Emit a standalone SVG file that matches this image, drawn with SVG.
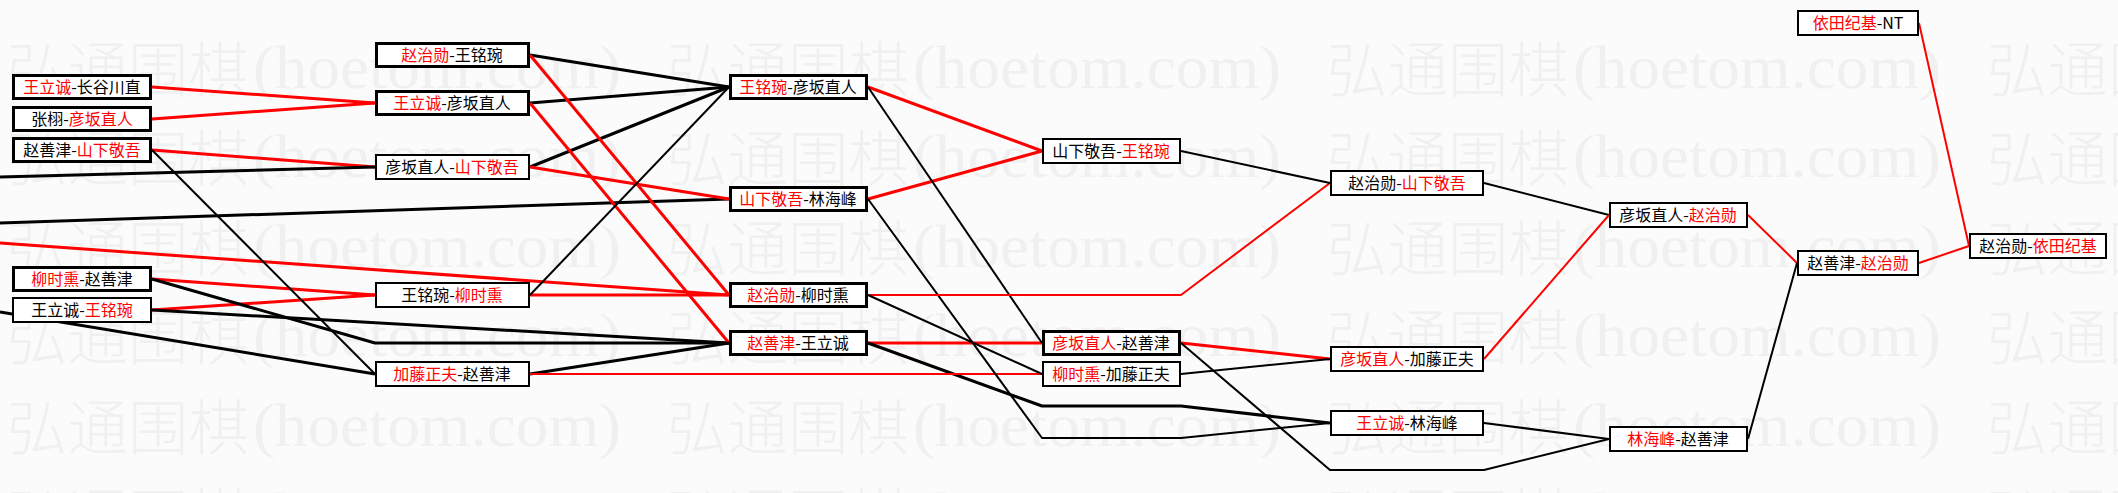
<svg xmlns="http://www.w3.org/2000/svg" xmlns:xlink="http://www.w3.org/1999/xlink" width="2118" height="493" viewBox="0 0 2118 493">
<style>
.bg{fill:#fbfbfb}
.wmc{font-family:"Noto Sans CJK SC","Noto Sans CJK JP",sans-serif;font-size:60px;font-weight:300;fill:#f0f0f0}
.wml{font-family:"Liberation Serif",serif;font-size:62px;fill:#f0f0f0}
.c{fill:none;stroke-linejoin:round;stroke-linecap:butt}
.k{stroke:#000}
.r{stroke:#ff0000}
.w3{stroke-width:3}
.w2{stroke-width:2}
.box{fill:#fff;stroke:#000}
.bk{stroke-width:3}
.bn{stroke-width:2}
.t{font-family:"Noto Sans CJK SC","Noto Sans CJK JP",sans-serif;font-size:16px;fill:#000;text-anchor:middle}
.red{fill:#ff0000}
</style>
<defs>
<g id="wm">
<text class="wmc" x="0" y="0" textLength="242" lengthAdjust="spacingAndGlyphs">弘通围棋</text>
<text class="wml" x="246" y="-4" textLength="368" lengthAdjust="spacingAndGlyphs">(hoetom.com)</text>
</g>
</defs>
<rect class="bg" x="0" y="0" width="2118" height="493"/>
<g id="watermark">
<use xlink:href="#wm" x="7" y="92"/><use xlink:href="#wm" x="667" y="92"/><use xlink:href="#wm" x="1327" y="92"/><use xlink:href="#wm" x="1987" y="92"/>
<use xlink:href="#wm" x="7" y="181"/><use xlink:href="#wm" x="667" y="181"/><use xlink:href="#wm" x="1327" y="181"/><use xlink:href="#wm" x="1987" y="181"/>
<use xlink:href="#wm" x="7" y="271"/><use xlink:href="#wm" x="667" y="271"/><use xlink:href="#wm" x="1327" y="271"/><use xlink:href="#wm" x="1987" y="271"/>
<use xlink:href="#wm" x="7" y="360"/><use xlink:href="#wm" x="667" y="360"/><use xlink:href="#wm" x="1327" y="360"/><use xlink:href="#wm" x="1987" y="360"/>
<use xlink:href="#wm" x="7" y="450"/><use xlink:href="#wm" x="667" y="450"/><use xlink:href="#wm" x="1327" y="450"/><use xlink:href="#wm" x="1987" y="450"/>
<use xlink:href="#wm" x="7" y="539"/><use xlink:href="#wm" x="667" y="539"/><use xlink:href="#wm" x="1327" y="539"/><use xlink:href="#wm" x="1987" y="539"/>
</g>
<g id="connectors">
<path class="c r w3" d="M152,87 L375,103"/>
<path class="c r w3" d="M152,119 L375,103"/>
<path class="c r w3" d="M152,150 L375,167"/>
<path class="c k w3" d="M0,177 L375,167"/>
<path class="c k w3" d="M0,223 L729,199"/>
<path class="c r w3" d="M0,243 L729,295"/>
<path class="c r w3" d="M152,279 L375,295"/>
<path class="c r w3" d="M152,310 L375,295"/>
<path class="c k w3" d="M152,279 L375,343 L729,343"/>
<path class="c k w3" d="M152,310 L729,343"/>
<path class="c k w3" d="M0,312 L375,374"/>
<path class="c k w3" d="M530,55 L729,87"/>
<path class="c k w3" d="M530,103 L729,87"/>
<path class="c k w3" d="M530,167 L729,87"/>
<path class="c r w3" d="M530,55 L729,295"/>
<path class="c r w3" d="M530,103 L729,343"/>
<path class="c r w3" d="M530,167 L729,199"/>
<path class="c r w3" d="M530,295 L729,295"/>
<path class="c k w3" d="M530,374 L729,343"/>
<path class="c r w3" d="M868,87 L1042,151"/>
<path class="c r w3" d="M868,199 L1042,151"/>
<path class="c r w3" d="M868,343 L1042,343"/>
<path class="c k w3" d="M868,343 L1042,406 L1181,406 L1330,423"/>
<path class="c r w3" d="M1181,343 L1330,359"/>
<path class="c k w2" d="M152,150 L375,374"/>
<path class="c k w2" d="M530,295 L729,87"/>
<path class="c r w2" d="M530,374 L1042,374"/>
<path class="c k w2" d="M868,87 L1042,343"/>
<path class="c k w2" d="M868,199 L1042,438 L1181,438 L1330,423"/>
<path class="c r w2" d="M868,295 L1181,295 L1330,183"/>
<path class="c k w2" d="M868,295 L1042,374"/>
<path class="c k w2" d="M1181,374 L1330,359"/>
<path class="c k w2" d="M1181,343 L1330,470 L1484,470 L1609,439"/>
<path class="c k w2" d="M1181,151 L1330,183"/>
<path class="c k w2" d="M1484,183 L1609,215"/>
<path class="c r w2" d="M1484,359 L1609,215"/>
<path class="c k w2" d="M1484,423 L1609,439"/>
<path class="c r w2" d="M1748,215 L1797,263"/>
<path class="c k w2" d="M1748,439 L1797,263"/>
<path class="c r w2" d="M1919,23 L1969,246"/>
<path class="c r w2" d="M1919,263 L1969,246"/>
</g>
<g id="A1"><rect class="box bk" x="13.5" y="75.5" width="137" height="23"/><text class="t" x="82" y="93"><tspan class="red">王立诚</tspan>-长谷川直</text></g>
<g id="A2"><rect class="box bk" x="13.5" y="107.5" width="137" height="23"/><text class="t" x="82" y="125">张栩-<tspan class="red">彦坂直人</tspan></text></g>
<g id="A3"><rect class="box bk" x="13.5" y="138.5" width="137" height="23"/><text class="t" x="82" y="156">赵善津-<tspan class="red">山下敬吾</tspan></text></g>
<g id="A4"><rect class="box bk" x="13.5" y="267.5" width="137" height="23"/><text class="t" x="82" y="285"><tspan class="red">柳时熏</tspan>-赵善津</text></g>
<g id="A5"><rect class="box bn" x="13" y="298" width="138" height="24"/><text class="t" x="82" y="316">王立诚-<tspan class="red">王铭琬</tspan></text></g>
<g id="B1"><rect class="box bk" x="376.5" y="43.5" width="152" height="23"/><text class="t" x="452" y="61"><tspan class="red">赵治勋</tspan>-王铭琬</text></g>
<g id="B2"><rect class="box bk" x="376.5" y="91.5" width="152" height="23"/><text class="t" x="452" y="109"><tspan class="red">王立诚</tspan>-彦坂直人</text></g>
<g id="B3"><rect class="box bn" x="376" y="155" width="153" height="24"/><text class="t" x="452" y="173">彦坂直人-<tspan class="red">山下敬吾</tspan></text></g>
<g id="B4"><rect class="box bn" x="376" y="283" width="153" height="24"/><text class="t" x="452" y="301">王铭琬-<tspan class="red">柳时熏</tspan></text></g>
<g id="B5"><rect class="box bn" x="376" y="362" width="153" height="24"/><text class="t" x="452" y="380"><tspan class="red">加藤正夫</tspan>-赵善津</text></g>
<g id="C1"><rect class="box bk" x="730.5" y="75.5" width="136" height="23"/><text class="t" x="798" y="93"><tspan class="red">王铭琬</tspan>-彦坂直人</text></g>
<g id="C2"><rect class="box bk" x="730.5" y="187.5" width="136" height="23"/><text class="t" x="798" y="205"><tspan class="red">山下敬吾</tspan>-林海峰</text></g>
<g id="C3"><rect class="box bk" x="730.5" y="283.5" width="136" height="23"/><text class="t" x="798" y="301"><tspan class="red">赵治勋</tspan>-柳时熏</text></g>
<g id="C4"><rect class="box bk" x="730.5" y="331.5" width="136" height="23"/><text class="t" x="798" y="349"><tspan class="red">赵善津</tspan>-王立诚</text></g>
<g id="D1"><rect class="box bn" x="1043" y="139" width="137" height="24"/><text class="t" x="1111" y="157">山下敬吾-<tspan class="red">王铭琬</tspan></text></g>
<g id="D2"><rect class="box bk" x="1043.5" y="331.5" width="136" height="23"/><text class="t" x="1111" y="349"><tspan class="red">彦坂直人</tspan>-赵善津</text></g>
<g id="D3"><rect class="box bn" x="1043" y="362" width="137" height="24"/><text class="t" x="1111" y="380"><tspan class="red">柳时熏</tspan>-加藤正夫</text></g>
<g id="E1"><rect class="box bn" x="1331" y="171" width="152" height="24"/><text class="t" x="1407" y="189">赵治勋-<tspan class="red">山下敬吾</tspan></text></g>
<g id="E2"><rect class="box bn" x="1331" y="347" width="152" height="24"/><text class="t" x="1407" y="365"><tspan class="red">彦坂直人</tspan>-加藤正夫</text></g>
<g id="E3"><rect class="box bn" x="1331" y="411" width="152" height="24"/><text class="t" x="1407" y="429"><tspan class="red">王立诚</tspan>-林海峰</text></g>
<g id="F1"><rect class="box bn" x="1610" y="203" width="137" height="24"/><text class="t" x="1678" y="221">彦坂直人-<tspan class="red">赵治勋</tspan></text></g>
<g id="F2"><rect class="box bn" x="1610" y="427" width="137" height="24"/><text class="t" x="1678" y="445"><tspan class="red">林海峰</tspan>-赵善津</text></g>
<g id="G1"><rect class="box bn" x="1798" y="11" width="120" height="24"/><text class="t" x="1858" y="29"><tspan class="red">依田纪基</tspan>-NT</text></g>
<g id="G2"><rect class="box bn" x="1798" y="251" width="120" height="24"/><text class="t" x="1858" y="269">赵善津-<tspan class="red">赵治勋</tspan></text></g>
<g id="H1"><rect class="box bn" x="1970" y="234" width="136" height="24"/><text class="t" x="2038" y="252">赵治勋-<tspan class="red">依田纪基</tspan></text></g>
</svg>
